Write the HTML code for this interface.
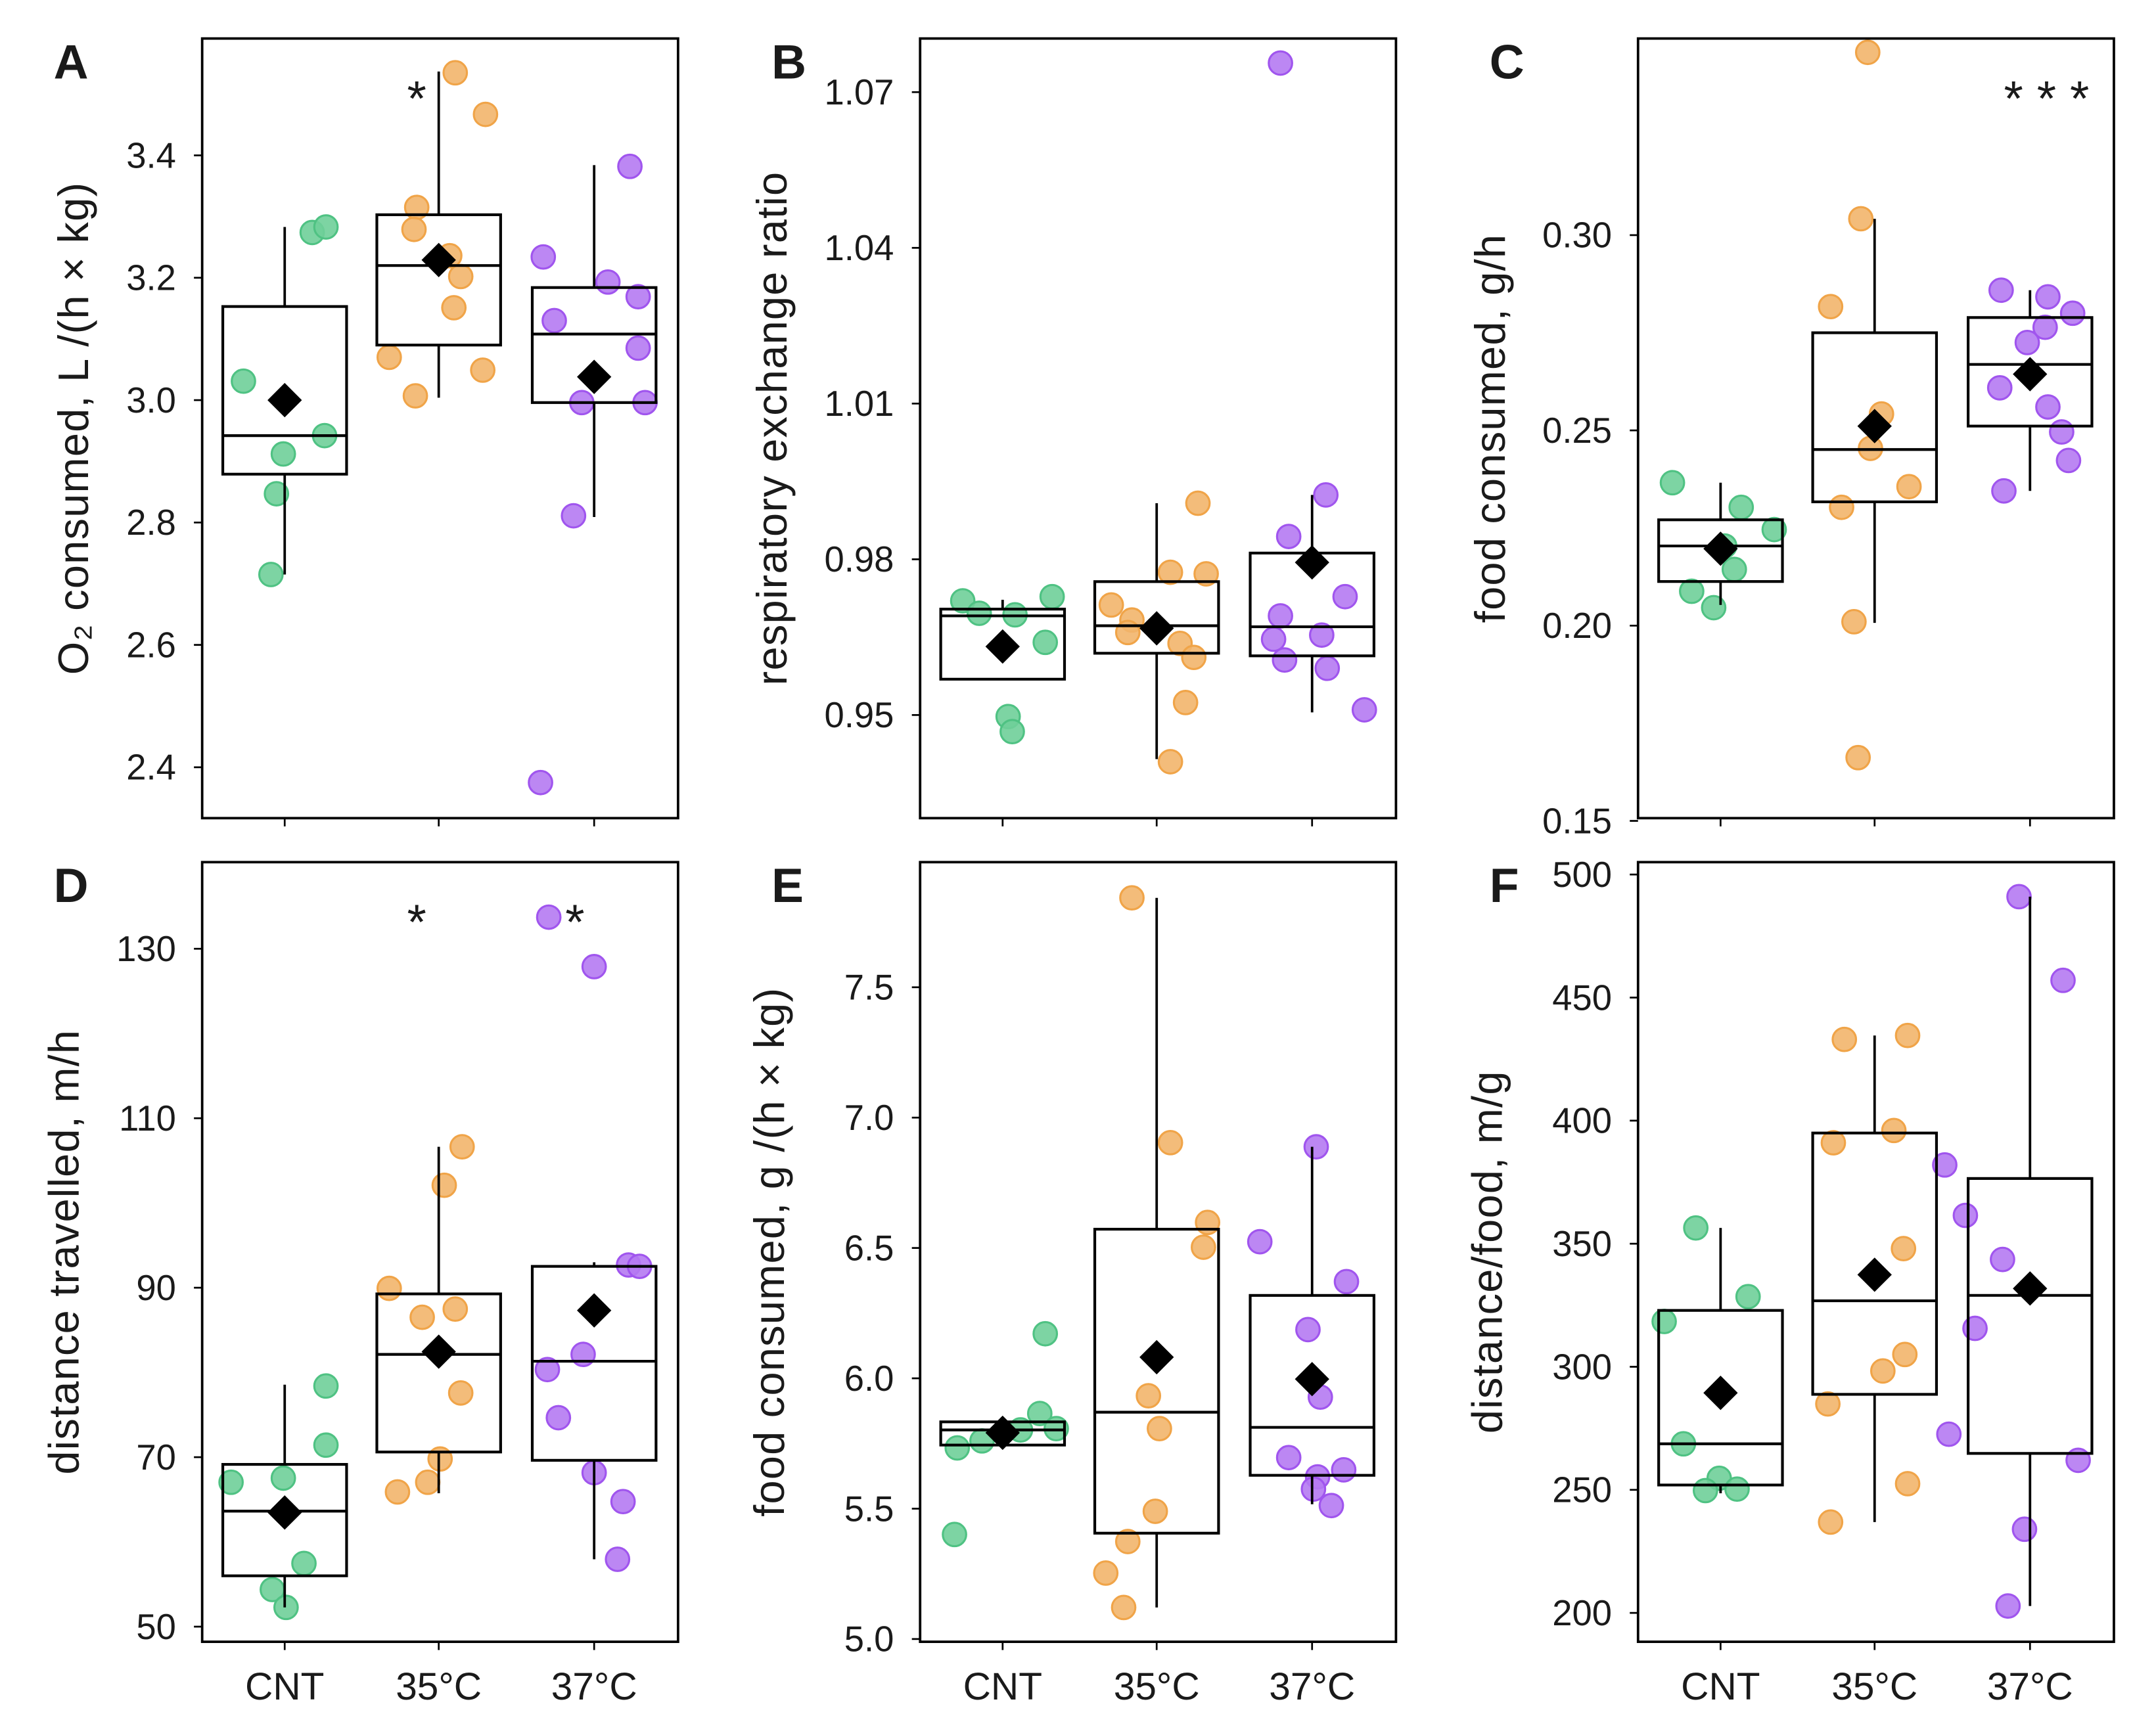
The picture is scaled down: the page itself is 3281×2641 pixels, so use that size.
<!DOCTYPE html>
<html><head><meta charset="utf-8"><style>
html,body{margin:0;padding:0;background:#fff}
svg{display:block}
text{font-family:"Liberation Sans",sans-serif;fill:#1a1a1a}
</style></head><body>
<svg id="fig" xmlns="http://www.w3.org/2000/svg" width="3281" height="2641" viewBox="0 0 1567.6 1261.8" preserveAspectRatio="none"></svg>
<script>
const categories = ["CNT","35°C","37°C"];
// panel A: O2 consumed
const aTicks = [2.4,2.6,2.8,3.0,3.2,3.4];
const aBoxes = [[2.715,2.879,2.942,3.153,3.283],[3.004,3.09,3.22,3.303,3.537],[2.809,2.996,3.108,3.184,3.384]];
const aMeans = [3.0,3.229,3.038];
const aPoints = [
 [[-30,3.031],[-1,2.912],[29,2.942],[-6,2.847],[-10,2.715],[20,3.274],[30,3.283]],
 [[12,3.535],[34,3.467],[-16,3.315],[-18,3.279],[8,3.236],[16,3.202],[11,3.151],[-36,3.070],[32,3.049],[-17,3.007]],
 [[26,3.382],[-37,3.234],[10,3.193],[32,3.169],[-29,3.13],[32,3.085],[-9,2.996],[37,2.996],[-15,2.811],[-39,2.375]]];
// panel B: RER
const bTicks = [0.95,0.98,1.01,1.04,1.07];
const bBoxes = [[0.9569,0.9569,0.9691,0.9704,0.9722],[0.9415,0.9619,0.9672,0.9757,0.9908],[0.9505,0.9614,0.967,0.9812,0.9924]];
const bMeans = [0.9632,0.9667,0.9794];
const bPoints = [
 [[-29,0.972],[-17,0.9696],[9,0.9693],[36,0.9728],[31,0.964],[4,0.9497],[7,0.9468]],
 [[30,0.9908],[10,0.9775],[36,0.9772],[-33,0.9712],[-18,0.9683],[-21,0.9659],[17,0.9638],[27,0.9611],[21,0.9524],[10,0.941]],
 [[-23,1.0756],[10,0.9924],[-17,0.9844],[24,0.9728],[-23,0.9691],[-28,0.9646],[7,0.9654],[-20,0.9606],[11,0.959],[38,0.951]]];
// panel C: food consumed g/h
const cTicks = [0.15,0.20,0.25,0.30];
const cBoxes = [[0.2053,0.2113,0.2204,0.2271,0.2366],[0.2007,0.2317,0.2451,0.275,0.3042],[0.2345,0.2511,0.2669,0.2789,0.2859]];
const cMeans = [0.2197,0.2511,0.2644];
const cPoints = [
 [[-35,0.2366],[15,0.2303],[39,0.2246],[3,0.2204],[10,0.2144],[-21,0.2088],[-5,0.2046]],
 [[-5,0.3468],[-10,0.3042],[-32,0.2817],[5,0.2542],[-3,0.2454],[25,0.2356],[-24,0.2303],[-15,0.201],[-12,0.1662]],
 [[-21,0.2859],[13,0.2842],[31,0.28],[11,0.2764],[-2,0.2725],[-22,0.2609],[13,0.256],[23,0.2496],[28,0.2423],[-19,0.2345]]];
// panel D: distance travelled
const dTicks = [50,70,90,110,130];
const dBoxes = [[52.27,56.0,63.63,69.15,78.56],[65.74,70.61,82.13,89.27,106.63],[57.95,69.63,81.32,92.52,93.0]];
const dMeans = [63.47,82.45,87.32];
const dPoints = [
 [[-39,67.04],[30,78.4],[30,71.42],[-1,67.53],[14,57.46],[-9,54.38],[1,52.27]],
 [[17,106.63],[4,102.09],[-36,89.92],[12,87.48],[-12,86.51],[16,77.58],[1,69.79],[-8,67.04],[-30,65.9]],
 [[-33,133.73],[0,127.89],[25,92.68],[33,92.52],[-8,82.13],[-34,80.34],[-26,74.66],[0,68.17],[21,64.76],[17,57.95]]];
// panel E: food consumed g/(h x kg)
const eTicks = [5.0,5.5,6.0,6.5,7.0,7.5];
const eBoxes = [[5.744,5.744,5.802,5.833,5.833],[5.121,5.406,5.87,6.572,7.843],[5.517,5.628,5.812,6.318,6.888]];
const eMeans = [5.791,6.081,5.997];
const ePoints = [
 [[31,6.171],[27,5.865],[13,5.802],[39,5.807],[-15,5.76],[-33,5.733],[-35,5.401]],
 [[-18,7.843],[10,6.904],[37,6.598],[34,6.503],[-6,5.933],[2,5.807],[-1,5.49],[-21,5.374],[-37,5.253],[-24,5.121]],
 [[3,6.888],[-38,6.524],[25,6.371],[-3,6.187],[6,5.928],[-17,5.696],[23,5.649],[4,5.622],[1,5.575],[14,5.512]]];
// panel F: distance/food
const fTicks = [200,250,300,350,400,450,500];
const fBoxes = [[248.6,251.96,268.7,322.9,356.4],[236.9,288.8,326.8,394.97,434.6],[202.8,264.8,329,376.5,491]];
const fMeans = [289.4,337.4,331.8];
const fPoints = [
 [[-18,356.4],[20,328.5],[-41,318.4],[-27,268.7],[-1,254.7],[-11,249.7],[12,250.3]],
 [[-22,433],[24,434.6],[14,396],[-30,391],[21,348],[22,305],[6,298.3],[-34,284.9],[24,252.5],[-32,236.9]],
 [[-8,491],[24,457],[-62,382],[-47,361.5],[-20,343.6],[-40,315.6],[-59,272.6],[35,262],[-4,234],[-16,202.8]]];

const NS="http://www.w3.org/2000/svg";
const svg=document.getElementById('fig');
function mk(tag,attrs,parent){const e=document.createElementNS(NS,tag);for(const k in attrs)e.setAttribute(k,attrs[k]);(parent||svg).appendChild(e);return e;}
const fills=["#6fcf99","#f2b56c","#b57af2"];
const strokes=["#4fc283","#f0a448","#a055ee"];
const groupNames=["cnt","35c","37c"];

const panels=[
 {id:'a',letter:'A',x0:147,y0:28,ticks:aTicks,boxes:aBoxes,means:aMeans,pts:aPoints,t0:3.4,p0:113,t1:2.4,p1:558,dec:1,title:'O₂ consumed, L /(h × kg)',tx:52,xl:false,stars:[[1,'*',0]]},
 {id:'b',letter:'B',x0:669,y0:28,ticks:bTicks,boxes:bBoxes,means:bMeans,pts:bPoints,t0:1.07,p0:67,t1:0.95,p1:520,dec:2,title:'respiratory exchange ratio',tx:560,xl:false,stars:[]},
 {id:'c',letter:'C',x0:1191,y0:28,ticks:cTicks,boxes:cBoxes,means:cMeans,pts:cPoints,t0:0.30,p0:171,t1:0.15,p1:597,dec:2,title:'food consumed, g/h',tx:1082,xl:false,stars:[[2,'* * *',12]]},
 {id:'d',letter:'D',x0:147,y0:627,ticks:dTicks,boxes:dBoxes,means:dMeans,pts:dPoints,t0:130,p0:690,t1:50,p1:1183,dec:0,title:'distance travelled, m/h',tx:45,xl:true,stars:[[1,'*',0],[2,'*',-14]]},
 {id:'e',letter:'E',x0:669,y0:627,ticks:eTicks,boxes:eBoxes,means:eMeans,pts:ePoints,t0:7.5,p0:718,t1:5.0,p1:1192,dec:1,title:'food consumed, g /(h × kg)',tx:558,xl:true,stars:[]},
 {id:'f',letter:'F',x0:1191,y0:627,ticks:fTicks,boxes:fBoxes,means:fMeans,pts:fPoints,t0:500,p0:636,t1:200,p1:1173,dec:0,title:'distance/food, m/g',tx:1080,xl:true,stars:[]}
];
const W=346,H=567,offs=[60,172,285],BW=90;
panels.forEach(p=>{
  const g=mk('g',{});
  
  
  const y=v=>p.p0+(p.t0-v)/(p.t0-p.t1)*(p.p1-p.p0);
  const x=i=>p.x0+offs[i];
  const L=mk('text',{x:p.x0-108,y:p.y0+29,'font-size':35,'font-weight':'bold'},g);L.textContent=p.letter;
  
  
  p.ticks.forEach(t=>{
    const ty=y(t);
    const tk=mk('line',{x1:p.x0-6,x2:p.x0,y1:ty,y2:ty,stroke:'#000','stroke-width':1.3},g);
    
    
    const tl=mk('text',{x:p.x0-19,y:ty+9,'font-size':26,'text-anchor':'end'},g);tl.textContent=t.toFixed(p.dec);
    
    
  });
  const yt=mk('text',{x:0,y:0,'font-size':31,'letter-spacing':0.6,'text-anchor':'middle',transform:`translate(${p.tx+12},${p.y0+H/2}) rotate(-90)`},g);
  yt.textContent=p.title;
  
  
  categories.forEach((c,i)=>{
    const xt=mk('line',{x1:x(i),x2:x(i),y1:p.y0+H,y2:p.y0+H+6,stroke:'#000','stroke-width':1.3},g);
    
    
    if(p.xl){const xl=mk('text',{x:x(i),y:1236,'font-size':28,'text-anchor':'middle'},g);xl.textContent=c;
      
      }
  });
  p.pts.forEach((arr,i)=>arr.forEach(pt=>{
    const c=mk('circle',{cx:x(i)+pt[0],cy:y(pt[1]),r:8.5,fill:fills[i],stroke:strokes[i],'stroke-width':1.5,'fill-opacity':0.9},g);
    
    
  }));
  p.boxes.forEach((b,i)=>{
    const cx=x(i);
    const wl=mk('line',{x1:cx,x2:cx,y1:y(b[0]),y2:y(b[1]),stroke:'#000','stroke-width':1.8},g);
    
    
    const wh=mk('line',{x1:cx,x2:cx,y1:y(b[3]),y2:y(b[4]),stroke:'#000','stroke-width':1.8},g);
    
    
    const r=mk('rect',{x:cx-BW/2,y:y(b[3]),width:BW,height:Math.max(0.5,y(b[1])-y(b[3])),fill:'none',stroke:'#000','stroke-width':2},g);
    
    
    const m=mk('line',{x1:cx-BW/2,x2:cx+BW/2,y1:y(b[2]),y2:y(b[2]),stroke:'#000','stroke-width':2},g);
    
    
    const my=y(p.means[i]),d=12.5;
    const dm=mk('polygon',{points:`${cx},${my-d} ${cx+d},${my} ${cx},${my+d} ${cx-d},${my}`,fill:'#000'},g);
    
    
  });
  const fr=mk('rect',{x:p.x0,y:p.y0,width:W,height:H,fill:'none',stroke:'#000','stroke-width':1.8},g);
  
  
  p.stars.forEach(s=>{
    const st=mk('text',{x:x(s[0])+(s[0]===1?-16:0)+s[2],y:p.y0+56,'font-size':36,'text-anchor':'middle'},g);
    st.textContent=s[1];
    
    
  });
});
</script>
</body></html>
